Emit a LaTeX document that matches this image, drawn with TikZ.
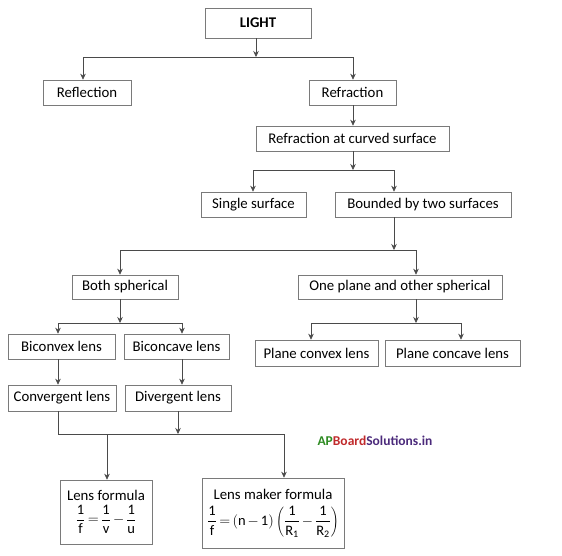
\documentclass[tikz,border=0pt]{standalone}
\usepackage{fontspec}
\setmainfont{Carlito}
\usetikzlibrary{arrows.meta}
\definecolor{boxline}{HTML}{7A7A7A}
\definecolor{conn}{HTML}{4A4A4A}
\definecolor{apgreen}{HTML}{2E8B22}
\definecolor{apred}{HTML}{C0292B}
\definecolor{appurple}{HTML}{4B2A7B}
\newcommand{\tm}[1]{\mbox{#1}}
\newcommand{\sbs}[1]{\mbox{\fontsize{10}{10}\selectfont #1}}
\newcommand{\fsmall}{\fontsize{14.5}{16}\selectfont\thickmuskip=3mu\medmuskip=2.5mu}
\tikzset{
  box/.style={draw=boxline, line width=0.6pt, rectangle, inner sep=0pt, align=center,
    font=\fontsize{14.8}{17}\selectfont, text=black},
  link/.style={draw=conn, line width=0.6pt},
  arr/.style={link, -{Stealth[length=6pt,width=5.5pt]}},
}
\begin{document}
\begin{tikzpicture}[x=1pt,y=-1pt]
\useasboundingbox (0,0) rectangle (562,555);

% nodes
\node[box, minimum width=106pt, minimum height=30pt, font=\fontsize{14.8}{17}\selectfont\bfseries] (light) at (258,23) {LIGHT};
\node[box, minimum width=88pt, minimum height=25pt] (refl) at (87,92.5) {Reflection};
\node[box, minimum width=87pt, minimum height=25pt] (refr) at (352.5,92.5) {Refraction};
\node[box, minimum width=193pt, minimum height=25pt] (rcs) at (352.5,138.5) {Refraction at curved surface};
\node[box, minimum width=105pt, minimum height=25pt] (single) at (253.5,204.5) {Single surface};
\node[box, minimum width=176pt, minimum height=25pt] (bounded) at (423,204.5) {Bounded by two surfaces};
\node[box, minimum width=106pt, minimum height=24pt] (both) at (125,287) {Both spherical};
\node[box, minimum width=204pt, minimum height=24pt] (oneplane) at (400,287) {One plane and other spherical};
\node[box, minimum width=107pt, minimum height=25pt] (biconvex) at (61.5,346.5) {Biconvex lens};
\node[box, minimum width=105pt, minimum height=25pt] (biconcave) at (176.5,346.5) {Biconcave lens};
\node[box, minimum width=123pt, minimum height=26pt] (pconvex) at (316.5,353) {Plane convex lens};
\node[box, minimum width=135pt, minimum height=26pt] (pconcave) at (452.5,353) {Plane concave lens};
\node[box, minimum width=108pt, minimum height=26pt] (conv) at (62,398) {Convergent lens};
\node[box, minimum width=106pt, minimum height=26pt] (div) at (178,398) {Divergent lens};
\node[box, minimum width=92pt, minimum height=64pt] (lf) at (106,512)
  {Lens formula\\[3pt] {\fsmall$\displaystyle\frac{\tm{1}}{\tm{f}}=\frac{\tm{1}}{\tm{v}}-\frac{\tm{1}}{\tm{u}}$}};
\node[box, minimum width=142pt, minimum height=70pt] (lmf) at (273,513)
  {Lens maker formula\\[6pt] {\fsmall$\displaystyle\frac{\tm{1}}{\tm{f}}=(\tm{n}-\tm{1})\left(\frac{\tm{1}}{\tm{R}_{\sbs{1}}}-\frac{\tm{1}}{\tm{R}_{\sbs{2}}}\right)$}};

% watermark
\node[font=\fontsize{13.5}{15}\selectfont\bfseries, inner sep=0pt] (wm) at (375,441)
  {\textcolor{apgreen}{AP}\textcolor{apred}{Board}\textcolor{appurple}{Solutions.in}};

% junction coordinates
\coordinate (j1) at (256,57);
\coordinate (j1l) at (83,57);
\coordinate (j1r) at (353,57);
\coordinate (j2) at (353,170);
\coordinate (j2l) at (253,170);
\coordinate (j2r) at (394,170);
\coordinate (j3) at (394,250);
\coordinate (j3l) at (120,250);
\coordinate (j3r) at (416,250);
\coordinate (j4) at (120,323);
\coordinate (j4l) at (58,323);
\coordinate (j4r) at (182,323);
\coordinate (j5) at (416,323);
\coordinate (j5l) at (311,323);
\coordinate (j5r) at (461,323);
\coordinate (j6l) at (58,434);
\coordinate (j6) at (178,434);
\coordinate (j6a) at (107,434);
\coordinate (j6r) at (284,434);

% connectors
\draw[arr] (light.south -| j1) -- (j1);
\draw[link] (j1l) -- (j1r);
\draw[arr] (j1l) -- (refl.north -| j1l);
\draw[arr] (j1r) -- (refr.north -| j1r);

\draw[arr] (refr.south -| j1r) -- (rcs.north -| j1r);

\draw[arr] (rcs.south -| j2) -- (j2);
\draw[link] (j2l) -- (j2r);
\draw[arr] (j2l) -- (single.north -| j2l);
\draw[arr] (j2r) -- (bounded.north -| j2r);

\draw[arr] (bounded.south -| j3) -- (j3);
\draw[link] (j3l) -- (j3r);
\draw[arr] (j3l) -- (both.north -| j3l);
\draw[arr] (j3r) -- (oneplane.north -| j3r);

\draw[arr] (both.south -| j4) -- (j4);
\draw[link] (j4l) -- (j4r);
\draw[arr] (j4l) -- (biconvex.north -| j4l);
\draw[arr] (j4r) -- (biconcave.north -| j4r);

\draw[arr] (oneplane.south -| j5) -- (j5);
\draw[link] (j5l) -- (j5r);
\draw[arr] (j5l) -- (pconvex.north -| j5l);
\draw[arr] (j5r) -- (pconcave.north -| j5r);

\draw[arr] (biconvex.south -| j4l) -- (conv.north -| j4l);
\draw[arr] (biconcave.south -| j4r) -- (div.north -| j4r);

\draw[link] (conv.south -| j6l) -- (j6l);
\draw[arr] (div.south -| j6) -- (j6);
\draw[link] (j6l) -- (j6r);
\draw[arr] (j6a) -- (lf.north -| j6a);
\draw[arr] (j6r) -- (lmf.north -| j6r);
\end{tikzpicture}
\end{document}
